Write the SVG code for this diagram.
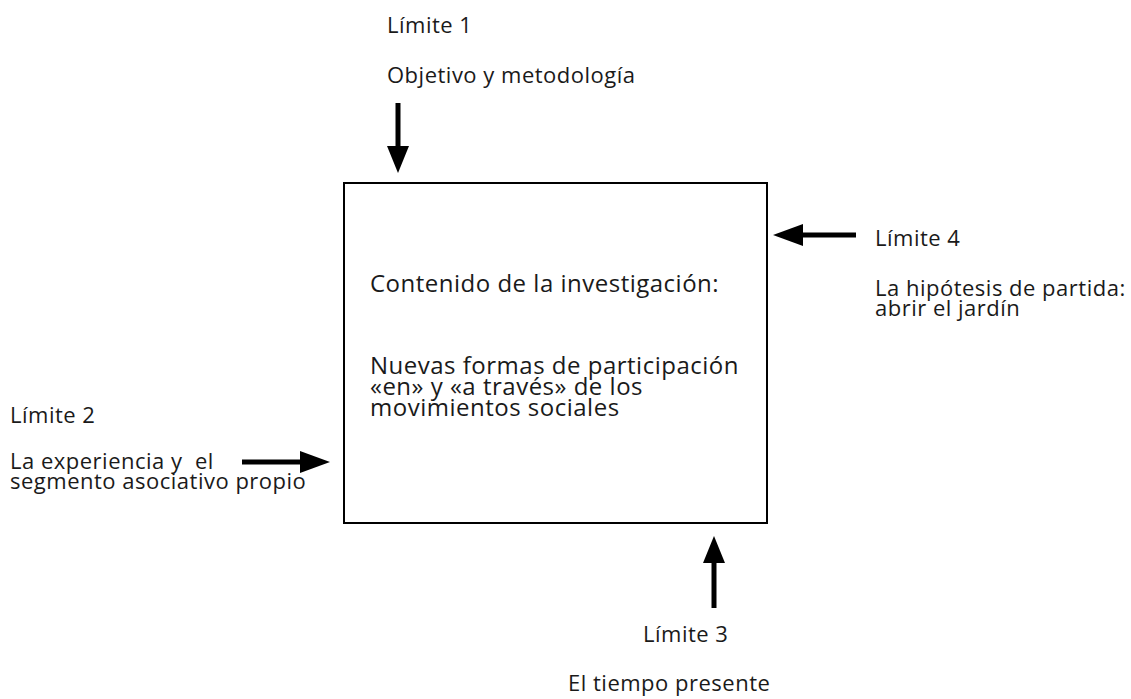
<svg xmlns="http://www.w3.org/2000/svg" width="1131" height="699" viewBox="0 0 1131 699">
<style>
text{font-family:"Open Sans","Noto Sans",sans-serif;fill:#1a1a1a;letter-spacing:0.5px}
.s{font-size:22px}
.m{font-size:24px}
.arr{stroke:#000;stroke-width:5;fill:none}
.hd{fill:#000}
</style>
<rect width="1131" height="699" fill="#fff"/>
<g id="content">
<rect x="344" y="183" width="423" height="340" fill="#fff" stroke="#000" stroke-width="2"/>
<text class="m" x="370" y="292">Contenido de la investigación:</text>
<text class="m" x="370" y="374">Nuevas formas de participación</text>
<text class="m" x="370" y="395">«en» y «a través» de los</text>
<text class="m" x="370" y="416">movimientos sociales</text>
</g>
<g id="limite1">
<text class="s" x="387" y="33">Límite 1</text>
<text class="s" x="387" y="83">Objetivo y metodología</text>
</g>
<g id="limite2">
<text class="s" x="10" y="423">Límite 2</text>
<text class="s" x="10" y="469" xml:space="preserve">La experiencia y  el</text>
<text class="s" x="10" y="489">segmento asociativo propio</text>
</g>
<g id="limite3">
<text class="s" x="643" y="642">Límite 3</text>
<text class="s" x="568" y="691">El tiempo presente</text>
</g>
<g id="limite4">
<text class="s" x="875" y="246">Límite 4</text>
<text class="s" x="875" y="296">La hipótesis de partida:</text>
<text class="s" x="875" y="316">abrir el jardín</text>
</g>
<g id="connectors">
<line class="arr" x1="398" y1="103" x2="398" y2="148"/>
<polygon class="hd" points="387,146 409,146 398,173"/>
<line class="arr" x1="856" y1="235" x2="800" y2="235"/>
<polygon class="hd" points="803,224 803,246 773,235"/>
<line class="arr" x1="242" y1="462" x2="303" y2="462"/>
<polygon class="hd" points="300,451 300,473 330,462"/>
<line class="arr" x1="714" y1="608" x2="714" y2="560"/>
<polygon class="hd" points="703,563 725,563 714,536"/>
</g>
</svg>
